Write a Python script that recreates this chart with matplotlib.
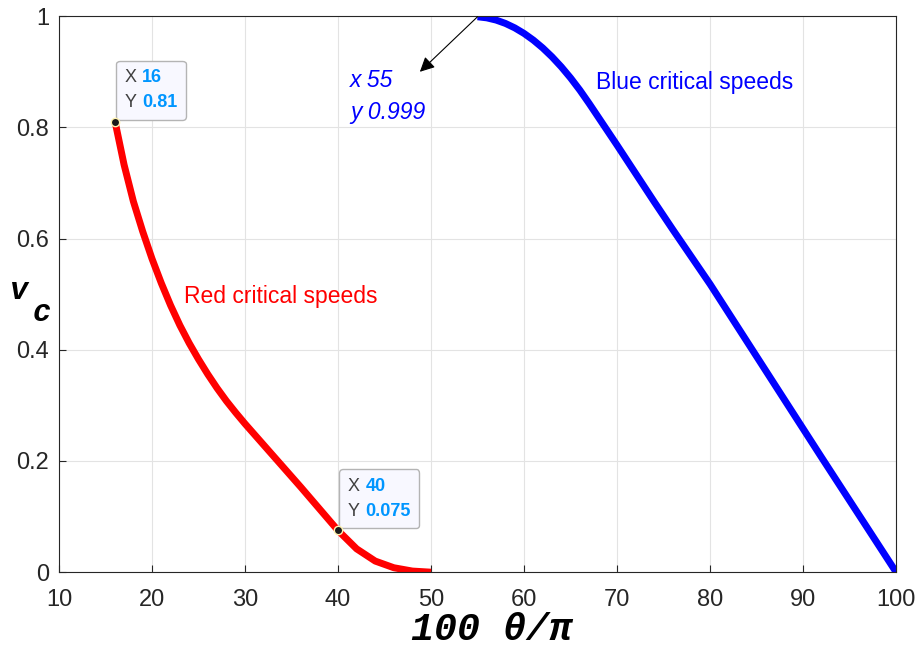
import matplotlib.pyplot as plt
from matplotlib.ticker import FuncFormatter
from matplotlib.offsetbox import TextArea, HPacker, VPacker, AnnotationBbox

# dados
red_x = [16, 17, 18, 19, 20, 21, 22, 23, 24, 25, 26, 27, 28, 29, 30,
         32, 34, 36, 38, 40, 42, 44, 46, 48, 50]
red_y = [0.813, 0.733, 0.667, 0.613, 0.564, 0.520, 0.480, 0.444, 0.412, 0.383, 0.356, 0.331, 0.308, 0.287, 0.267,
         0.229, 0.191, 0.153, 0.114, 0.075, 0.042, 0.020, 0.008, 0.002, 0.0]
blue_x = [55, 56, 57, 58, 59, 60, 61, 62, 63, 64, 65, 66, 67, 68, 69, 70,
          72, 74, 76, 78, 80, 84, 88, 92, 96, 100]
blue_y = [0.999, 0.997, 0.993, 0.987, 0.979, 0.969, 0.957, 0.943, 0.927, 0.909, 0.889, 0.867, 0.843, 0.818, 0.793, 0.768,
          0.717, 0.666, 0.616, 0.567, 0.518, 0.414, 0.310, 0.206, 0.103, 0.0]
tips = [(16, 0.81, '16', '0.81'), (40, 0.075, '40', '0.075')]
peak = (55, 0.999)

plt.rcParams['font.family'] = ['Liberation Sans', 'DejaVu Sans']
mono = ['Liberation Mono', 'DejaVu Sans Mono']

fig = plt.figure(figsize=(9.21, 6.48), dpi=100)
ax = fig.add_axes([0.064, 0.117, 0.909, 0.858])

ax.plot(red_x, red_y, color='red', linewidth=5, solid_capstyle='butt', solid_joinstyle='round')
ax.plot(blue_x, blue_y, color='blue', linewidth=5, solid_capstyle='butt', solid_joinstyle='round')

ax.set_xlim(10, 100)
ax.set_ylim(0, 1)
ax.set_xticks(range(10, 101, 10))
ax.set_yticks([0, 0.2, 0.4, 0.6, 0.8, 1])
ax.yaxis.set_major_formatter(FuncFormatter(lambda v, p: f'{v:g}'))
ax.tick_params(labelsize=17, colors='#262626', direction='in', length=5)
ax.tick_params(axis='x', pad=12)
ax.tick_params(axis='y', pad=7)
ax.grid(True, color='#e3e3e3', linewidth=0.8)
ax.set_axisbelow(True)
for s in ax.spines.values():
    s.set_color('#262626')
    s.set_linewidth(0.8)

# datatips estilo MATLAB
for x, y, xs, ys in tips:
    ax.plot(x, y, 'o', markersize=6, markerfacecolor='#1a1a1a', markeredgecolor='#fff3b0',
            markeredgewidth=1, zorder=7)
    lab = dict(color='#404040', fontsize=13)
    val = dict(color='#0096ff', fontsize=13, fontweight='bold')
    row1 = HPacker(children=[TextArea('X', textprops=lab), TextArea(xs, textprops=val)], sep=4, align='baseline')
    row2 = HPacker(children=[TextArea('Y', textprops=lab), TextArea(ys, textprops=val)], sep=4, align='baseline')
    box = VPacker(children=[row1, row2], sep=6, pad=0, align='left')
    ab = AnnotationBbox(box, (x, y), xybox=(7, 7.5), boxcoords='offset points', box_alignment=(0, 0),
                        pad=0.6, zorder=6,
                        bboxprops=dict(boxstyle='round,pad=0.6,rounding_size=0.25',
                                       facecolor='#f8f8ff', edgecolor='#b4b4b4', linewidth=1))
    ax.add_artist(ab)

# anotação do pico
ax.annotate('', xy=(48.8, 0.90), xytext=peak,
            arrowprops=dict(arrowstyle='-|>', color='black', lw=0.8, mutation_scale=22, shrinkA=0, shrinkB=0))
ax.text(41.3, 0.885, f'x {peak[0]}', color='blue', fontsize=16.5, style='italic', va='center')
ax.text(41.3, 0.826, f'y {peak[1]}', color='blue', fontsize=16.5, style='italic', va='center')

ax.text(67.7, 0.881, 'Blue critical speeds', color='blue', fontsize=16.5, va='center')
ax.text(23.4, 0.495, 'Red critical speeds', color='red', fontsize=16.5, va='center')

ax.set_xlabel('100 θ/π', fontsize=27.5, family=mono, weight='bold', style='italic')
ax.xaxis.set_label_coords(0.517, -0.071)
ax.text(-0.059, 0.505, 'v', transform=ax.transAxes, fontsize=22, family=mono, weight='bold',
        style='italic', ha='left', va='center')
ax.text(-0.031, 0.466, 'c', transform=ax.transAxes, fontsize=22, family=mono, weight='bold',
        style='italic', ha='left', va='center')

plt.savefig('out.png', dpi=100)
